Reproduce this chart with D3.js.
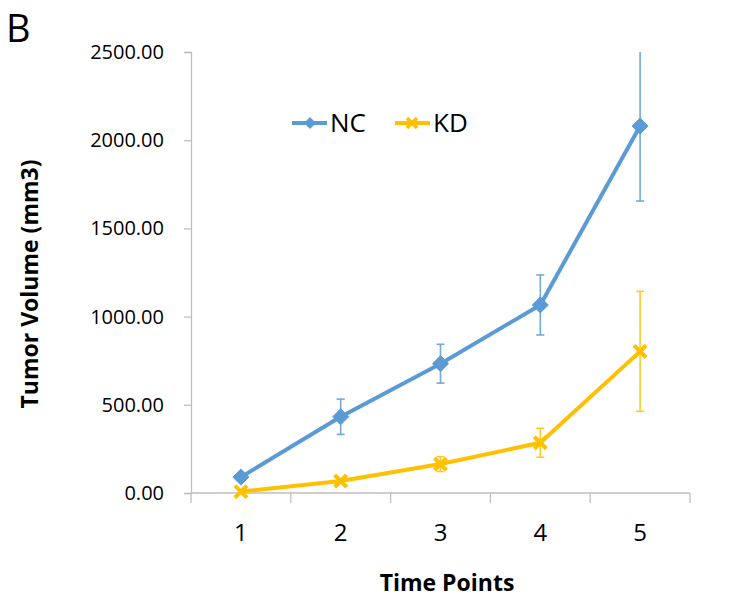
<!DOCTYPE html>
<html><head><meta charset="utf-8">
<script src="https://cdn.jsdelivr.net/npm/d3@7"></script>
<style>body{margin:0;background:#fff}</style>
</head><body>
<svg id="chart" width="733" height="608"></svg>
<script>
const categories = ["1","2","3","4","5"];
const ncValues = [90, 432, 733, 1066, 2080];
const ncErrors = [0, 100, 110, 170, 425];
const kdValues = [8, 68, 164, 285, 803];
const kdErrors = [0, 0, 42, 82, 340];
const yTicks = [0, 500, 1000, 1500, 2000, 2500];

(function () {
const svg = d3.select("#chart");
const font = "'Open Sans', 'Liberation Sans', sans-serif";
const pLeft = 191, pRight = 690, pTop = 52, pBottom = 493;
const x = d3.scaleBand().domain(categories).range([pLeft, pRight]).paddingInner(0).paddingOuter(0);
const y = d3.scaleLinear().domain([0, 2500]).range([pBottom, pTop]);
const cx = c => x(c) + x.bandwidth() / 2;
const axisColor = "#bfbfbf";

svg.append("defs").append("clipPath").attr("id", "clip")
  .append("rect").attr("x", 0).attr("y", pTop).attr("width", 733).attr("height", 608 - pTop);

// y axis
const yAxis = svg.append("g").attr("transform", `translate(${pLeft},0)`)
  .call(d3.axisLeft(y).tickValues(yTicks).tickSize(7).tickPadding(20).tickFormat(d3.format(".2f")));
yAxis.select(".domain").attr("stroke", axisColor).attr("stroke-width", 1.3);
yAxis.selectAll(".tick line").attr("stroke", axisColor).attr("stroke-width", 1.3);
yAxis.selectAll(".tick text").attr("font-family", font).attr("font-size", 20).attr("fill", "#000");

// x axis
const xg = svg.append("g");
xg.append("line").attr("x1", pLeft).attr("x2", pRight).attr("y1", y(0)).attr("y2", y(0))
  .attr("stroke", axisColor).attr("stroke-width", 1.3);
const edges = categories.map(c => x(c)).concat([x.range()[1]]);
xg.selectAll(".xt").data(edges).join("line").attr("class", "xt")
  .attr("x1", d => d).attr("x2", d => d).attr("y1", y(0)).attr("y2", y(0) + 10)
  .attr("stroke", axisColor).attr("stroke-width", 1.3);
xg.selectAll(".xl").data(categories).join("text").attr("class", "xl")
  .attr("x", d => cx(d)).attr("y", 541).attr("text-anchor", "middle")
  .attr("font-family", font).attr("font-size", 24).attr("fill", "#000").text(d => d);

// titles
svg.append("text").attr("x", 447).attr("y", 591).attr("text-anchor", "middle")
  .attr("font-family", font).attr("font-weight", "bold").attr("font-size", 23).text("Time Points");
svg.append("text").attr("transform", "translate(38,284) rotate(-90)").attr("text-anchor", "middle")
  .attr("font-family", font).attr("font-weight", "bold").attr("font-size", 23).text("Tumor Volume (mm3)");
svg.append("text").attr("x", 6).attr("y", 42).attr("font-family", font).attr("font-size", 38).text("B");

const ncColor = "#5b9bd5", kdColor = "#ffc000";
const plot = svg.append("g").attr("clip-path", "url(#clip)");

function errorBars(vals, errs, color) {
  const d = categories.map((c, i) => ({c, v: vals[i], e: errs[i]})).filter(o => o.e > 0);
  const g = plot.append("g").attr("stroke", color).attr("stroke-width", 1.6).attr("opacity", 0.85);
  g.selectAll("line.v").data(d).join("line").attr("class", "v")
    .attr("x1", o => cx(o.c)).attr("x2", o => cx(o.c)).attr("y1", o => y(o.v + o.e)).attr("y2", o => y(o.v - o.e));
  g.selectAll("line.t").data(d).join("line").attr("class", "t")
    .attr("x1", o => cx(o.c) - 4).attr("x2", o => cx(o.c) + 4).attr("y1", o => y(o.v + o.e)).attr("y2", o => y(o.v + o.e));
  g.selectAll("line.b").data(d).join("line").attr("class", "b")
    .attr("x1", o => cx(o.c) - 4).attr("x2", o => cx(o.c) + 4).attr("y1", o => y(o.v - o.e)).attr("y2", o => y(o.v - o.e));
}
errorBars(ncValues, ncErrors, ncColor);
errorBars(kdValues, kdErrors, kdColor);

const line = d3.line().x((d, i) => cx(categories[i])).y(d => y(d));
plot.append("path").datum(ncValues).attr("d", line).attr("fill", "none")
  .attr("stroke", ncColor).attr("stroke-width", 4).attr("stroke-linejoin", "round");
const diamond = s => `M0,${-s}L${s},0L0,${s}L${-s},0Z`;
plot.selectAll(".nc").data(ncValues).join("path").attr("class", "nc")
  .attr("transform", (d, i) => `translate(${cx(categories[i])},${y(d)})`)
  .attr("d", diamond(8)).attr("fill", ncColor).attr("stroke", ncColor).attr("stroke-width", 1).attr("stroke-linejoin", "round");

plot.append("path").datum(kdValues).attr("d", line).attr("fill", "none")
  .attr("stroke", kdColor).attr("stroke-width", 4).attr("stroke-linejoin", "round");
const cross = s => `M${-s},${-s}L${s},${s}M${-s},${s}L${s},${-s}`;
plot.selectAll(".kd").data(kdValues).join("path").attr("class", "kd")
  .attr("transform", (d, i) => `translate(${cx(categories[i])},${y(d)})`)
  .attr("d", cross(6)).attr("fill", "none").attr("stroke", kdColor).attr("stroke-width", 4);

// legend
const leg = svg.append("g");
leg.append("line").attr("x1", 292).attr("x2", 327).attr("y1", 123).attr("y2", 123).attr("stroke", ncColor).attr("stroke-width", 4);
leg.append("path").attr("transform", "translate(310,123)").attr("d", diamond(6)).attr("fill", ncColor);
leg.append("text").attr("x", 330).attr("y", 132).attr("font-family", font).attr("font-size", 26).text("NC");
leg.append("line").attr("x1", 395).attr("x2", 430).attr("y1", 123).attr("y2", 123).attr("stroke", kdColor).attr("stroke-width", 4);
leg.append("path").attr("transform", "translate(412,123)").attr("d", cross(5)).attr("fill", "none").attr("stroke", kdColor).attr("stroke-width", 3.5);
leg.append("text").attr("x", 433).attr("y", 132).attr("font-family", font).attr("font-size", 26).text("KD");
})();
</script>
</body></html>
